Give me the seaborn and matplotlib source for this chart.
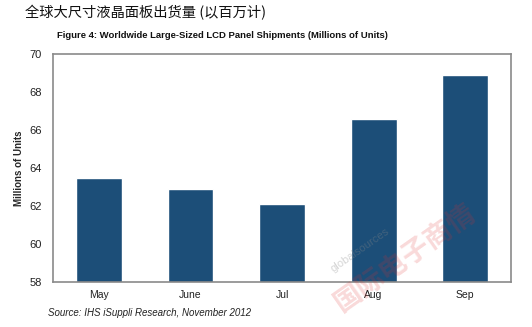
import matplotlib
matplotlib.use("Agg")
import matplotlib.pyplot as plt
import seaborn as sns
import pandas as pd

months = ["May", "June", "Jul", "Aug", "Sep"]
shipments = [63.5, 62.9, 62.1, 66.6, 68.9]
y_ticks = [58, 60, 62, 64, 66, 68, 70]

sns.set_theme(style="white")
plt.rcParams["font.family"] = ["Liberation Sans", "Noto Sans CJK SC", "DejaVu Sans"]

df = pd.DataFrame({"month": months, "units": shipments})

fig = plt.figure(figsize=(5.32, 3.27), dpi=100)
ax = fig.add_axes([53 / 532, 1 - 282 / 327, 458 / 532, 228 / 327])

sns.barplot(data=df, x="month", y="units", color="#1c4e78", saturation=1,
            width=0.5, ax=ax)
ax.set_ylim(58, 70)
ax.set_yticks(y_ticks)
ax.set_yticklabels([str(t) for t in y_ticks], fontsize=8, color="#222222")
ax.tick_params(axis="x", labelsize=7.5, colors="#222222", pad=6, length=0)
ax.tick_params(axis="y", pad=8, length=0)
ax.set_xlabel("")
ax.set_ylabel("Millions of Units", fontsize=7, fontweight="bold", labelpad=4)
for s in ax.spines.values():
    s.set_color("#8a8a8a")
    s.set_linewidth(1.2)

fig.text(25 / 532, 1 - 13 / 327, "全球大尺寸液晶面板出货量 (以百万计)",
         fontsize=10.3, va="center", ha="left",
         family=["Noto Sans CJK SC", "DejaVu Sans"], color="#111111")
fig.text(57 / 532, 1 - 35 / 327,
         "Figure 4: Worldwide Large-Sized LCD Panel Shipments (Millions of Units)",
         fontsize=6.8, fontweight="bold", va="center", ha="left", color="#111111")
fig.text(48 / 532, 1 - 313 / 327, "Source: IHS iSuppli Research, November 2012",
         fontsize=7, style="italic", va="center", ha="left", color="#222222")

# faint publisher marks across the lower right
fig.text(405 / 532, 1 - 258 / 327, "国际电子商情", fontsize=20, rotation=35,
         color="#e03030", alpha=0.18, ha="center", va="center",
         family=["Noto Sans CJK SC"], fontweight="bold")
fig.text(360 / 532, 1 - 250 / 327, "globalsources", fontsize=8, rotation=35,
         color="#888888", alpha=0.35, ha="center", va="center")

fig.savefig("out.png", dpi=100)
